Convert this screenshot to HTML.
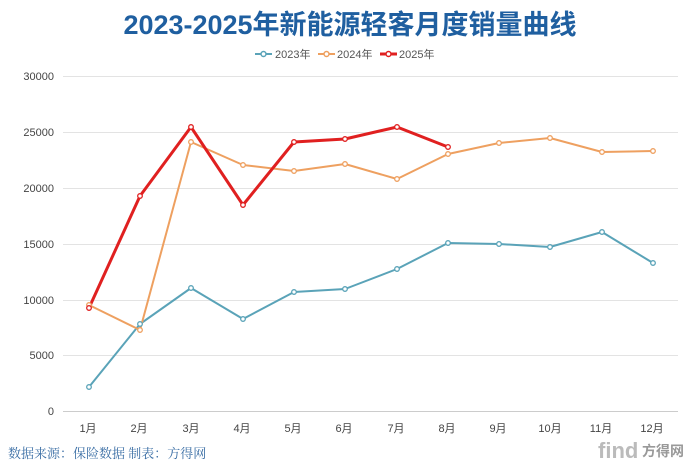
<!DOCTYPE html><html><head><meta charset="utf-8"><style>
body{margin:0;background:#fff;width:700px;height:465px;overflow:hidden;font-family:"Liberation Sans","Noto Sans CJK SC",sans-serif}
</style></head><body>
<svg width="700" height="465" xmlns="http://www.w3.org/2000/svg" font-family="Liberation Sans, Noto Sans CJK SC, sans-serif">
<text x="350" y="34" text-anchor="middle" font-size="27" font-weight="bold" fill="#1f5fa0">2023-2025年新能源轻客月度销量曲线</text>
<g font-size="11" fill="#555">
<line x1="255" y1="54" x2="272" y2="54" stroke="#5aa3b8" stroke-width="2"/><circle cx="263.5" cy="54" r="2.5" fill="#fff" stroke="#5aa3b8" stroke-width="1.5"/><text x="275" y="58">2023年</text>
<line x1="318" y1="54" x2="335" y2="54" stroke="#eea060" stroke-width="2"/><circle cx="326.5" cy="54" r="2.5" fill="#fff" stroke="#eea060" stroke-width="1.5"/><text x="337" y="58">2024年</text>
<line x1="380" y1="54" x2="397" y2="54" stroke="#e02020" stroke-width="3"/><circle cx="388.5" cy="54" r="2.5" fill="#fff" stroke="#e02020" stroke-width="1.5"/><text x="399" y="58">2025年</text>
</g>
<g stroke="#e3e3e3" stroke-width="1">
<line x1="63" y1="76.5" x2="678" y2="76.5"/><line x1="63" y1="132.5" x2="678" y2="132.5"/><line x1="63" y1="188.5" x2="678" y2="188.5"/><line x1="63" y1="244.5" x2="678" y2="244.5"/><line x1="63" y1="300.5" x2="678" y2="300.5"/><line x1="63" y1="355.5" x2="678" y2="355.5"/><line x1="63" y1="411.5" x2="678" y2="411.5" stroke="#ccc"/>
</g>
<g font-size="11" fill="#444" text-anchor="end">
<text x="54" y="80">30000</text><text x="54" y="136">25000</text><text x="54" y="192">20000</text><text x="54" y="248">15000</text><text x="54" y="304">10000</text><text x="54" y="359">5000</text><text x="54" y="415">0</text>
</g>
<g font-size="11" fill="#444" text-anchor="middle">
<text x="88" y="432">1月</text><text x="139" y="432">2月</text><text x="191" y="432">3月</text><text x="242" y="432">4月</text><text x="293" y="432">5月</text><text x="344" y="432">6月</text><text x="396" y="432">7月</text><text x="447" y="432">8月</text><text x="498" y="432">9月</text><text x="550" y="432">10月</text><text x="601" y="432">11月</text><text x="652" y="432">12月</text>
</g>
<g fill="none" stroke-linejoin="round">
<polyline stroke="#5aa3b8" stroke-width="2" points="89,387 140,324 191,288 243,319 294,292 345,289 397,269 448,243 499,244 550,247 602,232 653,263"/>
<polyline stroke="#eea060" stroke-width="2" points="89,305 140,330 191,142 243,165 294,171 345,164 397,179 448,154 499,143 550,138 602,152 653,151"/>
<polyline stroke="#e02020" stroke-width="3" points="89,308 140,196 191,127 243,205 294,142 345,139 397,127 448,147"/>
</g>
<g fill="#fff" stroke-width="1.3">
<g stroke="#5aa3b8"><circle cx="89" cy="387" r="2.3"/><circle cx="140" cy="324" r="2.3"/><circle cx="191" cy="288" r="2.3"/><circle cx="243" cy="319" r="2.3"/><circle cx="294" cy="292" r="2.3"/><circle cx="345" cy="289" r="2.3"/><circle cx="397" cy="269" r="2.3"/><circle cx="448" cy="243" r="2.3"/><circle cx="499" cy="244" r="2.3"/><circle cx="550" cy="247" r="2.3"/><circle cx="602" cy="232" r="2.3"/><circle cx="653" cy="263" r="2.3"/></g>
<g stroke="#eea060"><circle cx="89" cy="305" r="2.3"/><circle cx="140" cy="330" r="2.3"/><circle cx="191" cy="142" r="2.3"/><circle cx="243" cy="165" r="2.3"/><circle cx="294" cy="171" r="2.3"/><circle cx="345" cy="164" r="2.3"/><circle cx="397" cy="179" r="2.3"/><circle cx="448" cy="154" r="2.3"/><circle cx="499" cy="143" r="2.3"/><circle cx="550" cy="138" r="2.3"/><circle cx="602" cy="152" r="2.3"/><circle cx="653" cy="151" r="2.3"/></g>
<g stroke="#e02020"><circle cx="89" cy="308" r="2.3"/><circle cx="140" cy="196" r="2.3"/><circle cx="191" cy="127" r="2.3"/><circle cx="243" cy="205" r="2.3"/><circle cx="294" cy="142" r="2.3"/><circle cx="345" cy="139" r="2.3"/><circle cx="397" cy="127" r="2.3"/><circle cx="448" cy="147" r="2.3"/></g>
</g>
<text x="8" y="458" font-size="13" fill="#3a6ea5" font-family="Liberation Serif, Noto Serif CJK SC, serif">数据来源：保险数据 制表：方得网</text>
<text x="598" y="458" font-size="22" fill="#bbb" font-weight="bold">find</text><text x="642" y="456" font-size="14" fill="#999" font-weight="bold">方得网</text>
</svg>
</body></html>
